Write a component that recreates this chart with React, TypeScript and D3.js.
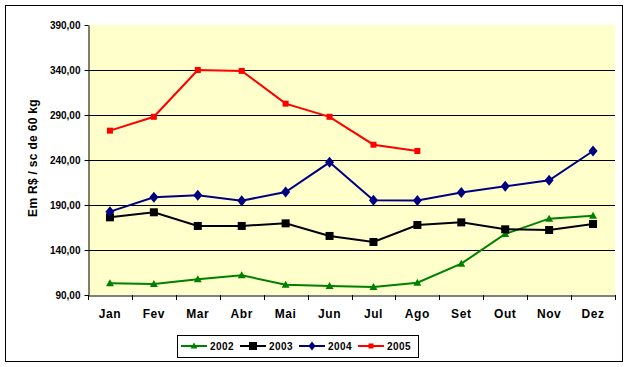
import React, { useEffect, useRef } from 'react';
import * as d3 from 'd3';

const months = ["Jan", "Fev", "Mar", "Abr", "Mai", "Jun", "Jul", "Ago", "Set", "Out", "Nov", "Dez"];
const yTicks = [90, 140, 190, 240, 290, 340, 390];

const s2002 = [103, 102.2, 107.4, 111.9, 101.5, 100, 98.9, 103.7, 124.8, 157.8, 174.8, 178.1];
const s2003 = [176.3, 181.9, 166.7, 166.7, 169.6, 155.6, 148.9, 167.8, 170.7, 163, 162.2, 168.9];
const s2004 = [182.6, 198.5, 200.7, 194.8, 204.4, 237.4, 195.2, 195, 204, 210.8, 217.4, 250];
const s2005 = [272.6, 288, 340, 339, 302.6, 288, 257, 250];

const series = [
  { name: "2002", values: s2002, color: "#008000", marker: "triangle", size: 8 },
  { name: "2003", values: s2003, color: "#000000", marker: "square", size: 8 },
  { name: "2004", values: s2004, color: "#000080", marker: "diamond", size: 9 },
  { name: "2005", values: s2005, color: "#FF0000", marker: "square", size: 6 },
];

function drawMarker(g: any, kind: string, x: number, y: number, size: number, color: string) {
  const h = size / 2;
  if (kind === "square") {
    g.append("rect").attr("x", x - h).attr("y", y - h).attr("width", size).attr("height", size).attr("fill", color);
  } else if (kind === "diamond") {
    g.append("path").attr("d", `M${x},${y - h - 1}L${x + h},${y}L${x},${y + h + 1}L${x - h},${y}Z`).attr("fill", color);
  } else {
    g.append("path").attr("d", `M${x},${y - h}L${x + h},${y + h - 1}L${x - h},${y + h - 1}Z`).attr("fill", color);
  }
}

export default function App() {
  const ref = useRef<SVGSVGElement>(null);

  useEffect(() => {
    const svg = d3.select(ref.current);
    svg.selectAll("*").remove();
    const font = "'Liberation Sans', Arial, sans-serif";

    const left = 88, right = 615, top = 25, bottom = 295;

    // moldura externa
    svg.append("rect").attr("x", 5.5).attr("y", 5.5).attr("width", 617).attr("height", 356)
      .attr("fill", "#fff").attr("stroke", "#000").attr("stroke-width", 1);

    const x = d3.scaleBand().domain(months).range([left, right]);
    const y = d3.scaleLinear().domain([90, 390]).range([bottom, top]);

    svg.append("rect").attr("x", left).attr("y", top).attr("width", right - left).attr("height", bottom - top)
      .attr("fill", "#FFFFCC");

    // grade
    svg.append("g").selectAll("line").data(yTicks.slice(1, -1)).join("line")
      .attr("x1", left).attr("x2", right)
      .attr("y1", d => Math.round(y(d)) + 0.5).attr("y2", d => Math.round(y(d)) + 0.5)
      .attr("stroke", "#000").attr("stroke-width", 1);

    // eixo Y
    const ya = svg.append("g").attr("transform", `translate(${left + 0.5},0)`)
      .call(d3.axisLeft(y).tickValues(yTicks).tickSize(4).tickSizeOuter(0)
        .tickFormat(d => d3.format(".2f")(d as number).replace(".", ",")));
    ya.select(".domain").attr("stroke", "#000");
    ya.selectAll("text").attr("font-family", font).attr("font-weight", "bold").attr("font-size", 10)
      .attr("fill", "#000").attr("x", -8);

    // eixo X
    const xa = svg.append("g").attr("transform", `translate(0,${bottom + 0.5})`)
      .call(d3.axisBottom(x).tickSize(0).tickSizeOuter(0));
    xa.select(".domain").attr("stroke", "#000");
    xa.selectAll("text").attr("font-family", font).attr("font-weight", "bold").attr("font-size", 12)
      .attr("letter-spacing", 0.6).attr("fill", "#000").attr("dy", 0).attr("y", 22);
    svg.append("g").selectAll("line").data(d3.range(months.length + 1)).join("line")
      .attr("x1", i => Math.round(left + i * x.step()) + 0.5).attr("x2", i => Math.round(left + i * x.step()) + 0.5)
      .attr("y1", bottom).attr("y2", bottom + 5).attr("stroke", "#000");

    // rótulo Y
    svg.append("text").attr("transform", `translate(37,158) rotate(-90)`)
      .attr("text-anchor", "middle").attr("font-family", font).attr("font-weight", "bold")
      .attr("font-size", 12).attr("letter-spacing", 0.3).text("Em R$ / sc de 60 kg");

    const cx = (i: number) => (x(months[i]) as number) + x.bandwidth() / 2;

    // séries
    series.forEach(s => {
      const line = d3.line<number>().x((_, i) => cx(i)).y(d => y(d));
      svg.append("path").datum(s.values).attr("d", line).attr("fill", "none")
        .attr("stroke", s.color).attr("stroke-width", 2);
      const g = svg.append("g");
      s.values.forEach((v, i) => drawMarker(g, s.marker, cx(i), y(v), s.size, s.color));
    });

    // legenda
    svg.append("rect").attr("x", 177.5).attr("y", 335.5).attr("width", 241).attr("height", 22)
      .attr("fill", "#fff").attr("stroke", "#000");
    series.forEach((s, i) => {
      const lx = 181 + i * 59;
      const ly = 346;
      svg.append("line").attr("x1", lx).attr("x2", lx + 26).attr("y1", ly).attr("y2", ly)
        .attr("stroke", s.color).attr("stroke-width", 2);
      const g = svg.append("g");
      drawMarker(g, s.marker, lx + 13, ly, s.name === "2003" ? 8 : s.name === "2005" ? 5 : 7, s.color);
      svg.append("text").attr("x", lx + 29).attr("y", ly + 4).attr("font-family", font)
        .attr("font-weight", "bold").attr("font-size", 10).attr("letter-spacing", 0.4).text(s.name);
    });
  }, []);

  return (
    <svg ref={ref} width={630} height={367} style={{ position: "absolute", left: 0, top: 0 }} />
  );
}
